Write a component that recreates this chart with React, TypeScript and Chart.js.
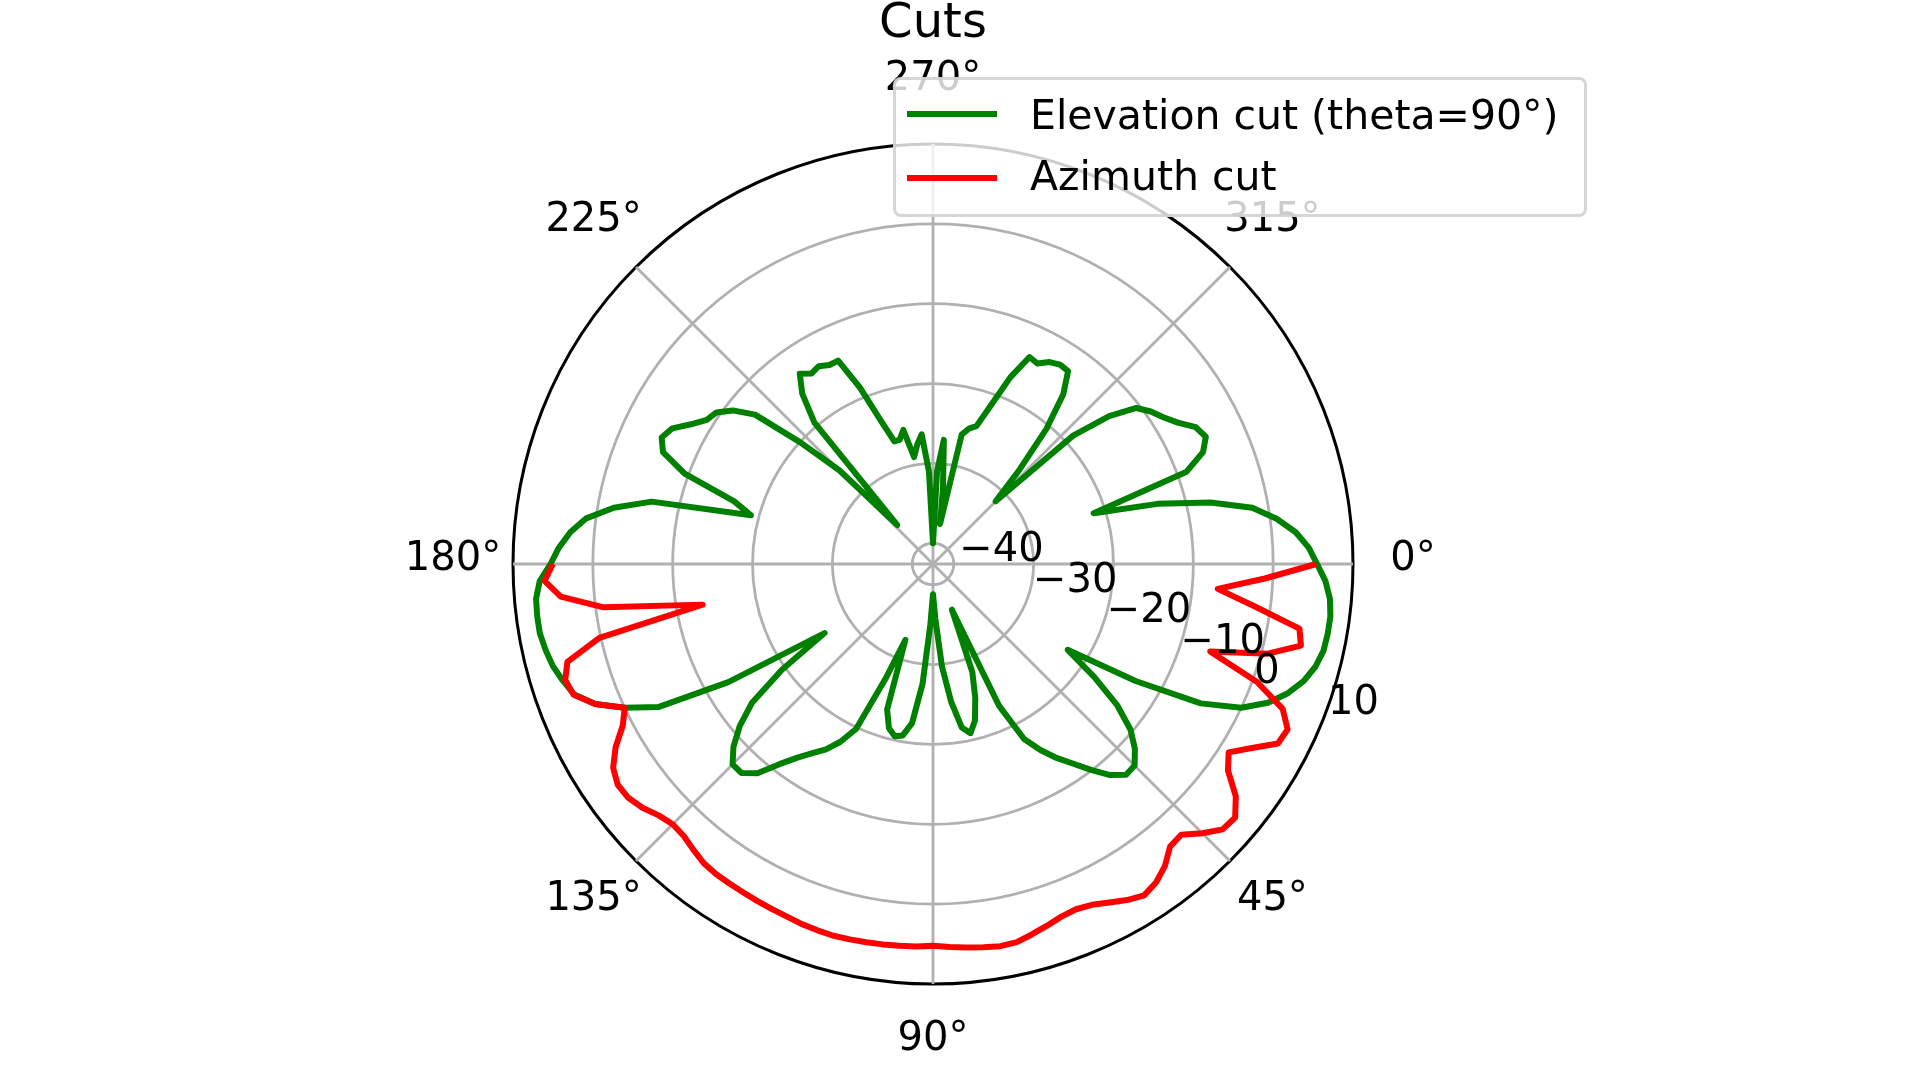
import React, { useEffect, useRef } from 'react';
import { Chart, registerables } from 'chart.js';

Chart.register(...registerables);

// ---- data ----
const STEP_DEG = 2.5;
const ANGLE_COUNT = 144;
const ANGLE_LABELS: string[] = Array.from({ length: ANGLE_COUNT }, (_, i) => `${i * STEP_DEG}°`);

// Elevation cut (theta=90°), dB, 0°..357.5° every 2.5°
const ELEVATION_DB: number[] = [
  5.5, 6.6, 7.3, 7.6, 7.6, 7.5, 7.0, 6.1, 4.7, 2.8,
  0.0, -4.8, -13.3, -22.6, -18.0, -13.5, -10.3, -8.3, -6.9, -6.8,
  -8.1, -10.1, -12.1, -13.8, -15.7, -17.9, -23.0, -36.4, -28.2, -25.0,
  -22.3, -20.9, -21.8, -25.2, -29.7, -35.7, -38.8, -35.0, -27.5, -22.5,
  -20.8, -20.5, -21.3, -23.5, -32.5, -27.0, -19.8, -17.5, -15.8, -14.5,
  -13.0, -11.0, -8.4, -7.1, -7.1, -8.7, -11.0, -14.0, -19.5, -26.5,
  -13.0, -3.8, 0.0, 3.2, 5.2, 6.0, 6.7, 7.1, 7.4, 7.4,
  7.3, 6.7, 5.3, 4.3, 3.0, 1.2, -2.0, -6.5, -19.0, -16.5,
  -9.5, -6.0, -5.1, -5.8, -7.6, -9.0, -9.5, -11.0, -13.5, -20.0,
  -26.0, -36.0, -19.5, -15.7, -13.5, -14.3, -14.0, -14.5, -14.5, -18.7,
  -23.5, -26.5, -26.5, -25.4, -29.0, -27.5, -26.3, -31.0, -40.0, -31.0,
  -27.0, -33.0, -37.5, -26.0, -25.0, -24.5, -21.5, -17.3, -14.0, -14.3,
  -13.4, -13.0, -13.1, -15.8, -20.5, -26.5, -31.5, -18.8, -13.8, -10.5,
  -9.3, -8.4, -7.2, -5.5, -4.9, -6.0, -8.8, -21.5, -13.5, -7.0,
  -2.0, 0.8, 3.0, 4.5,
];

// Azimuth cut, dB, 0°..180° every 2.5°
const AZIMUTH_DB: number[] = [
  5.4, -1.0, -6.8, -2.0, 4.0, 4.6, 0.8, -6.2, 0.6, 4.8,
  6.4, 6.1, 3.5, 1.3, 2.5, 5.2, 6.8, 6.6, 5.1, 3.4,
  3.6, 5.1, 6.1, 6.6, 6.0, 5.2, 4.5, 4.2, 4.4, 4.9,
  5.4, 5.9, 6.0, 5.8, 5.6, 5.4, 5.2, 5.35, 5.4, 5.45,
  5.5, 5.55, 5.6, 5.5, 5.4, 5.2, 5.1, 5.0, 4.9, 4.85,
  4.8, 4.6, 4.1, 3.6, 3.5, 4.0, 4.9, 5.5, 5.6, 4.9,
  3.3, 1.2, 0.0, 3.2, 5.3, 5.7, 4.8, 0.2, -13.3, -1.0,
  4.2, 6.1, 5.0,
];

const R_MIN = -42.6;
const R_MAX = 10;
const R_TICKS: number[] = [-40, -30, -20, -10, 0, 10];
const R_TICK_LABELS: string[] = ['\u221240', '\u221230', '\u221220', '\u221210', '0', '10'];
const R_LABEL_DEG = 22.5;
const THETA_TICKS: number[] = [0, 45, 90, 135, 180, 225, 270, 315];
const THETA_TICK_LABELS: string[] = ['0°', '45°', '90°', '135°', '180°', '225°', '270°', '315°'];

const TITLE = 'Cuts';
const SERIES_NAMES = ['Elevation cut (theta=90°)', 'Azimuth cut'];
const SERIES_COLORS = ['green', 'red'];

const FONT = '"DejaVu Sans", "Liberation Sans", sans-serif';

const labelPlugin = {
  id: 'polarLabels',
  afterDatasetsDraw(chart: any) {
    const scale = chart.scales.r;
    const ctx = chart.ctx;
    ctx.save();
    ctx.fillStyle = '#000';
    ctx.font = `40px ${FONT}`;
    ctx.textAlign = 'center';
    ctx.textBaseline = 'middle';
    THETA_TICKS.forEach((deg, k) => {
      const p = scale.getPointPosition(deg / STEP_DEG, scale.drawingArea + 60);
      ctx.fillText(THETA_TICK_LABELS[k], p.x, p.y - 4);
    });
    ctx.textAlign = 'left';
    ctx.textBaseline = 'alphabetic';
    R_TICKS.forEach((v, k) => {
      const p = scale.getPointPositionForValue(R_LABEL_DEG / STEP_DEG, v);
      ctx.fillText(R_TICK_LABELS[k], p.x + 7, p.y - 11);
    });
    ctx.restore();
  },
};

export default function App() {
  const canvasRef = useRef<HTMLCanvasElement | null>(null);

  useEffect(() => {
    const canvas = canvasRef.current;
    if (!canvas) return;
    const azimuthData: (number | null)[] = ANGLE_LABELS.map((_, i) =>
      i < AZIMUTH_DB.length ? AZIMUTH_DB[i] : null
    );
    const chart = new Chart(canvas, {
      type: 'radar',
      data: {
        labels: ANGLE_LABELS,
        datasets: [
          {
            label: SERIES_NAMES[1],
            data: azimuthData,
            borderColor: SERIES_COLORS[1],
            backgroundColor: SERIES_COLORS[1],
            borderWidth: 6,
            pointRadius: 0,
            pointHitRadius: 0,
            fill: false,
            spanGaps: false,
            borderJoinStyle: 'round',
            order: 0,
          } as any,
          {
            label: SERIES_NAMES[0],
            data: ELEVATION_DB,
            borderColor: SERIES_COLORS[0],
            backgroundColor: SERIES_COLORS[0],
            borderWidth: 6,
            pointRadius: 0,
            pointHitRadius: 0,
            fill: false,
            borderJoinStyle: 'round',
            order: 1,
          } as any,
        ],
      },
      options: {
        animation: false,
        responsive: false,
        maintainAspectRatio: false,
        layout: { padding: { left: 513, top: 144, right: 567, bottom: 96 } },
        plugins: {
          legend: { display: false },
          title: { display: false },
          tooltip: { enabled: false },
        },
        scales: {
          r: {
            min: R_MIN,
            max: R_MAX,
            startAngle: 90,
            afterBuildTicks: (scale: any) => {
              scale.ticks = [R_MIN, ...R_TICKS].map((v) => ({ value: v }));
            },
            ticks: { display: false, stepSize: 10 },
            pointLabels: { display: false },
            grid: {
              circular: true,
              color: (c: any) => (c.tick && c.tick.value === R_MAX ? '#000000' : '#b0b0b0'),
              lineWidth: (c: any) =>
                c.tick && R_TICKS.includes(c.tick.value) ? (c.tick.value === R_MAX ? 3 : 2.8) : 0,
            },
            angleLines: {
              display: true,
              color: '#b0b0b0',
              lineWidth: (c: any) => (c.index % (45 / STEP_DEG) === 0 ? 2.8 : 0),
            },
          } as any,
        },
      },
      plugins: [labelPlugin],
    });
    return () => chart.destroy();
  }, []);

  return (
    <div
      style={{
        position: 'fixed',
        left: 0,
        top: 0,
        width: 1920,
        height: 1080,
        background: '#fff',
        overflow: 'hidden',
        fontFamily: FONT,
      }}
    >
      <canvas ref={canvasRef} width={1920} height={1080} style={{ display: 'block', width: 1920, height: 1080 }} />
      <div
        style={{
          position: 'absolute',
          left: 933,
          top: -3.6,
          transform: 'translateX(-50%)',
          fontSize: 48,
          lineHeight: '48px',
          whiteSpace: 'nowrap',
          color: '#000',
        }}
      >
        {TITLE}
      </div>
      <div
        style={{
          position: 'absolute',
          left: 893,
          top: 77,
          width: 694,
          height: 140,
          boxSizing: 'border-box',
          border: '3px solid rgba(204,204,204,0.8)',
          borderRadius: 8,
          background: 'rgba(255,255,255,0.8)',
        }}
      />
      {SERIES_NAMES.map((name, i) => (
        <React.Fragment key={name}>
          <div
            style={{
              position: 'absolute',
              left: 907,
              top: (i === 0 ? 114.3 : 177.7) - 3,
              width: 90,
              height: 6,
              background: SERIES_COLORS[i],
            }}
          />
          <div
            style={{
              position: 'absolute',
              left: 1030,
              top: i === 0 ? 94.6 : 156,
              fontSize: 41,
              lineHeight: '41px',
              whiteSpace: 'nowrap',
              color: '#000',
            }}
          >
            {name}
          </div>
        </React.Fragment>
      ))}
    </div>
  );
}
